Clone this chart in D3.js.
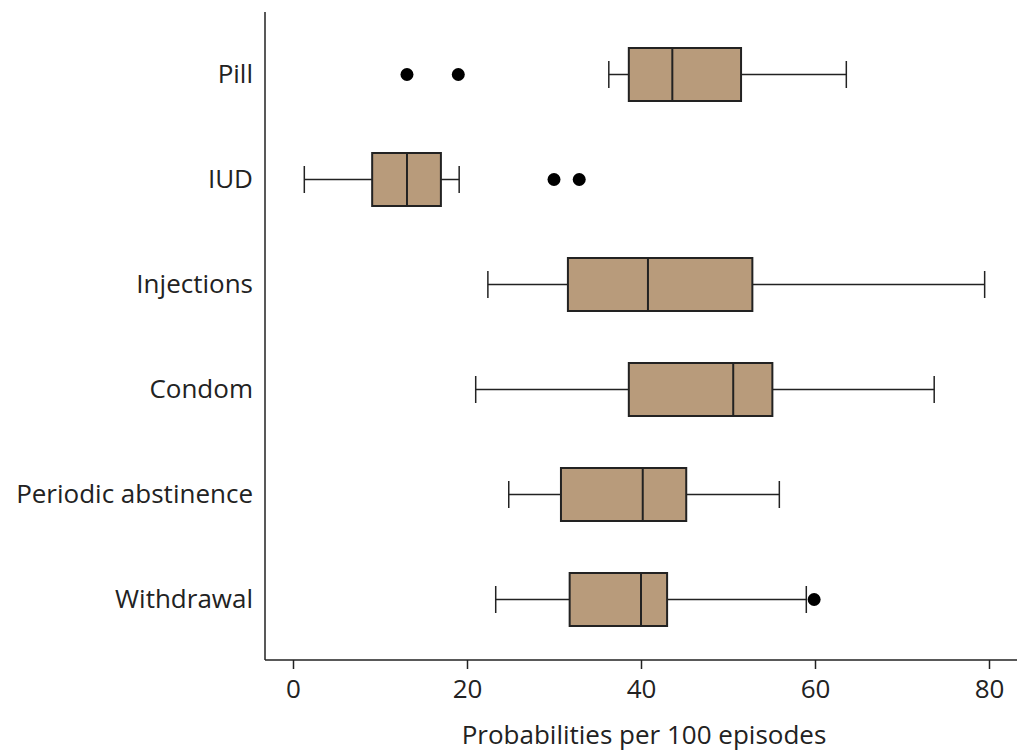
<!DOCTYPE html>
<html><head><meta charset="utf-8">
<script src="https://cdn.jsdelivr.net/npm/d3@7"></script>
<style>body{margin:0;background:#fff;} svg{display:block;} text{font-family:"Open Sans",sans-serif;fill:#222;}</style>
</head><body>
<svg id="c" width="1017" height="755"></svg>
<script>
const categories = ["Pill","IUD","Injections","Condom","Periodic abstinence","Withdrawal"];
const whiskerLow  = [36.3, 1.3, 22.4, 21.0, 24.8, 23.3];
const q1          = [38.6, 9.1, 31.6, 38.6, 30.8, 31.8];
const median      = [43.6, 13.1, 40.8, 50.6, 40.2, 40.0];
const q3          = [51.5, 17.0, 52.8, 55.1, 45.2, 43.0];
const whiskerHigh = [63.6, 19.1, 79.5, 73.7, 55.9, 59.0];
const outliers    = [[13.1, 19.0], [30.0, 32.9], [], [], [], [59.9]];
const xTicks = [0, 20, 40, 60, 80];
const xTitle = "Probabilities per 100 episodes";

(function(){
const svg = d3.select("#c");
const pLeft = 265, pRight = 1017, pTop = 12, pBottom = 660;
const x = d3.scaleLinear().domain([0, 80]).range([293, 989]);
const y = d3.scaleBand().domain(categories).range([22, 652]);
const boxH = 53, capH = 27;
const fill = "#B89B7B", stroke = "#222";
const fs = "26px";

const data = categories.map((c, i) => ({c, lo: whiskerLow[i], q1: q1[i], med: median[i], q3: q3[i], hi: whiskerHigh[i], out: outliers[i]}));

const g = svg.append("g");
data.forEach(d => {
  const cy = y(d.c) + y.bandwidth() / 2;
  g.append("line").attr("x1", x(d.lo)).attr("x2", x(d.q1)).attr("y1", cy).attr("y2", cy).attr("stroke", stroke).attr("stroke-width", 1.5);
  g.append("line").attr("x1", x(d.q3)).attr("x2", x(d.hi)).attr("y1", cy).attr("y2", cy).attr("stroke", stroke).attr("stroke-width", 1.5);
  [d.lo, d.hi].forEach(v => g.append("line").attr("x1", x(v)).attr("x2", x(v)).attr("y1", cy - capH/2).attr("y2", cy + capH/2).attr("stroke", stroke).attr("stroke-width", 1.5));
  g.append("rect").attr("x", x(d.q1)).attr("y", cy - boxH/2).attr("width", x(d.q3) - x(d.q1)).attr("height", boxH)
    .attr("fill", fill).attr("stroke", stroke).attr("stroke-width", 2);
  g.append("line").attr("x1", x(d.med)).attr("x2", x(d.med)).attr("y1", cy - boxH/2).attr("y2", cy + boxH/2).attr("stroke", stroke).attr("stroke-width", 2);
  d.out.forEach(v => g.append("circle").attr("cx", x(v)).attr("cy", cy).attr("r", 6.5).attr("fill", "#000"));
});

svg.append("line").attr("x1", pLeft).attr("x2", pLeft).attr("y1", pTop).attr("y2", pBottom).attr("stroke", "#222").attr("stroke-width", 1.5);
svg.append("line").attr("x1", pLeft).attr("x2", pRight).attr("y1", pBottom).attr("y2", pBottom).attr("stroke", "#222").attr("stroke-width", 1.5);

const xa = svg.append("g").attr("transform", `translate(0,${pBottom})`)
  .call(d3.axisBottom(x).tickValues(xTicks).tickSize(9).tickPadding(11));
xa.select(".domain").remove();
xa.selectAll("line").attr("stroke", "#222").attr("stroke-width", 1.5);
xa.selectAll("text").style("font-size", fs).style("font-family", "'Open Sans',sans-serif").attr("fill", "#222");

const ya = svg.append("g").attr("transform", `translate(${pLeft},0)`)
  .call(d3.axisLeft(y).tickSize(0).tickPadding(12));
ya.select(".domain").remove();
ya.selectAll("text").style("font-size", fs).style("font-family", "'Open Sans',sans-serif").attr("fill", "#222");

svg.append("text").attr("x", (x(0) + x(80)) / 2 + 3).attr("y", 744).attr("text-anchor", "middle")
  .style("font-size", fs).text(xTitle);
})();
</script>
</body></html>
